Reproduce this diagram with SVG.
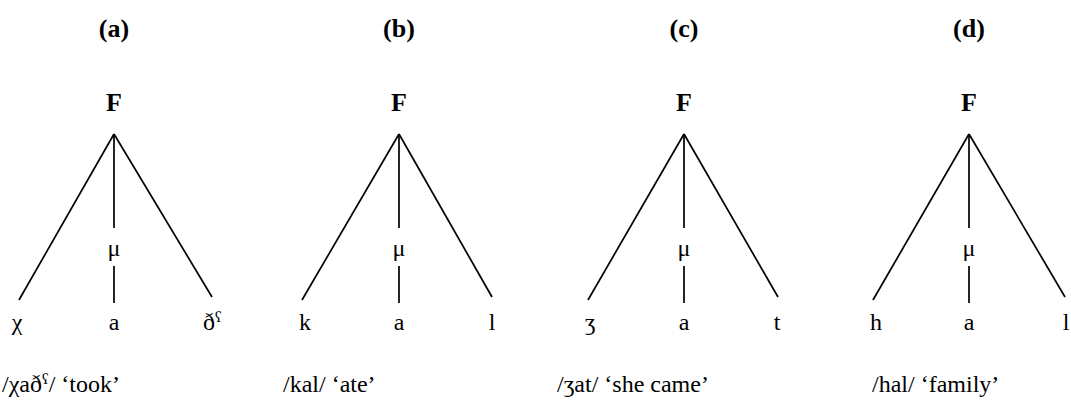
<svg xmlns="http://www.w3.org/2000/svg" width="1071" height="409" viewBox="0 0 1071 409">
<style>
text{font-family:"Liberation Serif","Times New Roman",serif;fill:#000;font-size:24px}
.b{font-weight:bold;font-size:26px}
.m{text-anchor:middle}
.sup{font-size:15px}
line{stroke:#000;stroke-width:1.7}
</style>
<rect width="1071" height="409" fill="#fff"/>
<g id="connectors">
<line x1="114" y1="134" x2="19" y2="300"/><line x1="114" y1="134" x2="114" y2="228"/><line x1="114" y1="134" x2="212" y2="297"/><line x1="114" y1="266" x2="114" y2="303"/>
<line x1="399" y1="134" x2="302" y2="300"/><line x1="399" y1="134" x2="399" y2="228"/><line x1="399" y1="134" x2="492" y2="297"/><line x1="399" y1="266" x2="399" y2="303"/>
<line x1="684" y1="134" x2="588" y2="300"/><line x1="684" y1="134" x2="684" y2="228"/><line x1="684" y1="134" x2="778" y2="297"/><line x1="684" y1="266" x2="684" y2="303"/>
<line x1="969" y1="134" x2="873" y2="300"/><line x1="969" y1="134" x2="969" y2="228"/><line x1="969" y1="134" x2="1065" y2="297"/><line x1="969" y1="266" x2="969" y2="303"/>
</g>
<g id="tree-a">
<text class="b m" x="114" y="37">(a)</text>
<text class="b m" x="114" y="111">F</text>
<text class="m" x="114" y="256">μ</text>
<text class="m" x="17" y="330">χ</text>
<text class="m" x="114" y="330">a</text>
<text x="203" y="330">ð<tspan class="sup" dy="-8">ʕ</tspan></text>
<text x="2" y="392">/χað<tspan class="sup" dy="-8">ʕ</tspan><tspan dy="8">/ ‘took’</tspan></text>
</g>
<g id="tree-b">
<text class="b m" x="399" y="37">(b)</text>
<text class="b m" x="399" y="111">F</text>
<text class="m" x="399" y="256">μ</text>
<text class="m" x="305" y="330">k</text>
<text class="m" x="399" y="330">a</text>
<text class="m" x="492" y="330">l</text>
<text x="283" y="392">/kal/ ‘ate’</text>
</g>
<g id="tree-c">
<text class="b m" x="684" y="37">(c)</text>
<text class="b m" x="684" y="111">F</text>
<text class="m" x="684" y="256">μ</text>
<text class="m" x="590" y="330">ʒ</text>
<text class="m" x="684" y="330">a</text>
<text class="m" x="777" y="330">t</text>
<text x="557" y="392">/ʒat/ ‘she came’</text>
</g>
<g id="tree-d">
<text class="b m" x="969" y="37">(d)</text>
<text class="b m" x="969" y="111">F</text>
<text class="m" x="969" y="256">μ</text>
<text class="m" x="876" y="330">h</text>
<text class="m" x="969" y="330">a</text>
<text class="m" x="1066" y="330">l</text>
<text x="872" y="392">/hal/ ‘family’</text>
</g>
</svg>
